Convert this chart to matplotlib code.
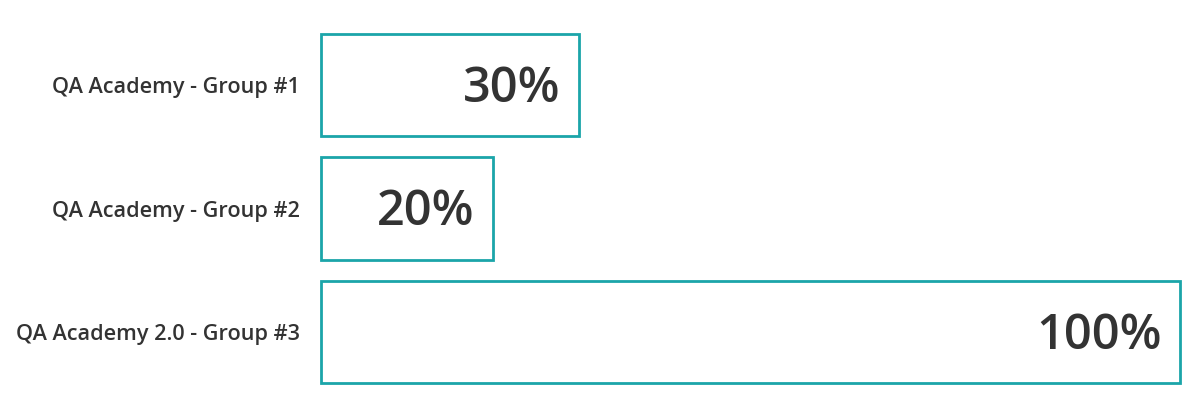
import matplotlib
matplotlib.use('Agg')
import matplotlib.pyplot as plt

# Dados do gráfico
grupos = ['QA Academy - Group #1', 'QA Academy - Group #2', 'QA Academy 2.0 - Group #3']
valores = [30, 20, 100]
rotulos = ['30%', '20%', '100%']

cor_borda = '#1ba5a9'
cor_texto = '#333333'
fonte = ['Open Sans', 'DejaVu Sans']

fig = plt.figure(figsize=(11.99, 4.15), dpi=100)
ax = fig.add_axes([321 / 1199, 1 - 383 / 415, (1180 - 321) / 1199, (383 - 34) / 415])

altura = 0.826
barras = ax.barh(range(len(grupos)), valores, height=altura, color='white',
                 edgecolor=cor_borda, linewidth=2)
for b in barras:
    b.set_clip_on(False)

ax.set_xlim(0, 100)
ax.set_ylim(len(grupos) - 1 + altura / 2, -altura / 2)

# Rótulos de valor dentro das barras
for i, (v, r) in enumerate(zip(valores, rotulos)):
    ax.annotate(r, xy=(v, i), xytext=(-13, -3), textcoords='offset points',
                ha='right', va='center', fontsize=35, color=cor_texto,
                family=fonte, fontweight='semibold')

ax.set_yticks(range(len(grupos)))
ax.set_yticklabels(grupos, family=fonte, fontweight='semibold',
                   fontsize=15.6, color=cor_texto)
ax.tick_params(axis='y', length=0, pad=15)
ax.set_xticks([])
for s in ax.spines.values():
    s.set_visible(False)

fig.savefig('out.png', dpi=100)
